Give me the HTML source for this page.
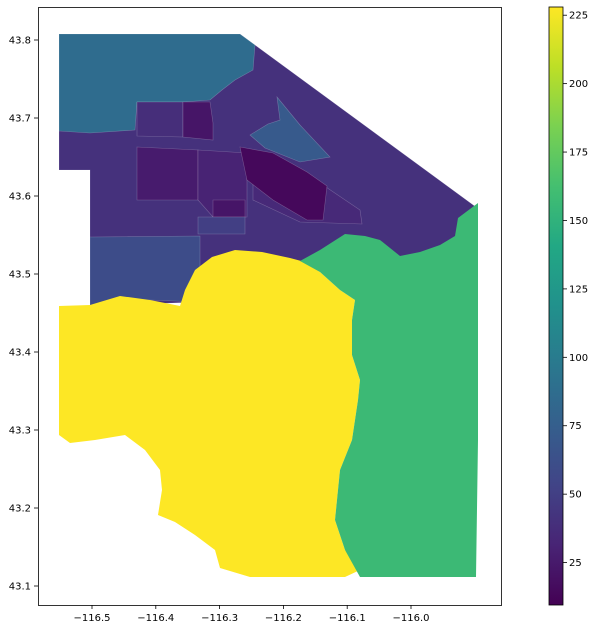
<!DOCTYPE html>
<html><head><meta charset="utf-8">
<style>
html,body{margin:0;padding:0;background:#fff;}
svg{display:block;font-family:"DejaVu Sans","Liberation Sans",sans-serif;}
</style></head>
<body>
<svg id="chart" width="611" height="629" viewBox="0 0 611 629" xmlns="http://www.w3.org/2000/svg">
<defs>
<linearGradient id="vir" x1="0" y1="1" x2="0" y2="0">
<stop offset="0" stop-color="#440154"/><stop offset="0.1" stop-color="#482475"/><stop offset="0.2" stop-color="#414487"/><stop offset="0.3" stop-color="#355f8d"/><stop offset="0.4" stop-color="#2a788e"/><stop offset="0.5" stop-color="#21918c"/><stop offset="0.6" stop-color="#22a884"/><stop offset="0.7" stop-color="#44bf70"/><stop offset="0.8" stop-color="#7ad151"/><stop offset="0.9" stop-color="#bddf26"/><stop offset="1" stop-color="#fde725"/>
</linearGradient>
</defs>
<g id="regions"></g>
<rect x="38.5" y="7.5" width="463" height="598" fill="none" stroke="#000" stroke-width="0.8"/>
<g id="xticks"></g>
<g id="yticks"></g>
<rect x="549" y="7" width="14" height="598" fill="url(#vir)" stroke="#000" stroke-width="0.8"/>
<g id="cticks"></g>
</svg>
<script>
const xTicks = [-116.5, -116.4, -116.3, -116.2, -116.1, -116.0];
const xTickLabels = ["\u2212116.5","\u2212116.4","\u2212116.3","\u2212116.2","\u2212116.1","\u2212116.0"];
const yTicks = [43.1, 43.2, 43.3, 43.4, 43.5, 43.6, 43.7, 43.8];
const yTickLabels = ["43.1","43.2","43.3","43.4","43.5","43.6","43.7","43.8"];
const cTicks = [25, 50, 75, 100, 125, 150, 175, 200, 225];
const vMin = 9.5, vMax = 228;
const regionNames = ["purple-base","northwest","lower-left","ne-strip","block-a","block-b","center-a","center-b","center-c","center-d","east-ring","diagonal-core","yellow-south","green-east"];
const regionValues = [40, 86, 60, 71, 38, 22, 26, 31, 22, 50, 35, 14, 228, 157];
// geometry in pixel-space anchors converted to lon/lat below (vertex lists)
const regionPx = [
 [[59,131],[137,102],[240,34],[476,207],[478,250],[400,262],[300,262],[200,302],[90,306],[90,170],[59,170]],
 [[59,34],[240,34],[255,45],[253,70],[235,80],[222,90],[210,100],[183,102],[137,102],[135,130],[90,133],[59,131]],
 [[90,237],[200,236],[200,302],[150,300],[90,306]],
 [[277,97],[300,125],[330,157],[300,162],[265,148],[250,135],[268,124],[280,120]],
 [[137,102],[183,102],[183,137],[137,136]],
 [[183,102],[210,102],[213,123],[213,140],[183,137]],
 [[137,147],[198,150],[198,200],[137,200]],
 [[198,150],[247,153],[247,217],[213,217],[198,200]],
 [[213,200],[245,200],[245,217],[213,217]],
 [[198,217],[245,217],[245,234],[198,234]],
 [[253,180],[320,183],[360,210],[362,224],[300,222],[253,200]],
 [[240,147],[273,153],[307,172],[327,186],[323,220],[307,220],[273,200],[247,180]],
 [[59,306],[90,305],[120,296],[150,300],[180,306],[185,290],[195,270],[212,257],[235,250],[262,252],[290,258],[305,262],[320,272],[340,290],[355,300],[352,320],[352,355],[360,380],[358,400],[352,440],[340,470],[335,520],[345,550],[360,570],[345,577],[250,577],[220,568],[215,550],[195,535],[175,522],[158,515],[162,490],[160,470],[145,450],[125,435],[95,440],[70,443],[59,435]],
 [[300,261],[320,250],[345,234],[365,236],[380,240],[400,256],[420,252],[440,245],[455,236],[458,218],[478,203],[478,440],[476,577],[360,577],[345,550],[335,520],[340,470],[352,440],[358,400],[360,380],[352,355],[352,320],[355,300],[340,290],[320,272]]
];
function xs(lon){return 92 + (lon + 116.5) * 638;}
function ys(lat){return 40 + (43.8 - lat) * 780;}
function lonOf(px){return -116.5 + (px - 92) / 638;}
function latOf(py){return 43.8 - (py - 40) / 780;}
const regionLonLat = regionPx.map(p => p.map(q => [lonOf(q[0]), latOf(q[1])]));
const stops = ["#440154","#482475","#414487","#355f8d","#2a788e","#21918c","#22a884","#44bf70","#7ad151","#bddf26","#fde725"];
function hx(h){return [1,3,5].map(i=>parseInt(h.substr(i,2),16));}
function viridis(v){
  let t = Math.max(0, Math.min(1, (v - vMin) / (vMax - vMin))) * 10;
  let i = Math.min(9, Math.floor(t)), f = t - i;
  const a = hx(stops[i]), b = hx(stops[i+1]);
  return "rgb(" + a.map((c,k)=>Math.round(c + (b[k]-c)*f)).join(",") + ")";
}
const NS = "http://www.w3.org/2000/svg";
const rg = document.getElementById("regions");
regionLonLat.forEach((poly, i) => {
  const p = document.createElementNS(NS, "polygon");
  p.setAttribute("points", poly.map(q => xs(q[0]).toFixed(1) + "," + ys(q[1]).toFixed(1)).join(" "));
  p.setAttribute("fill", viridis(regionValues[i]));
  p.setAttribute("stroke", i >= 12 ? "none" : "rgba(255,255,255,0.25)");
  p.setAttribute("stroke-width", "0.6");
  
  
  rg.appendChild(p);
});
const xg = document.getElementById("xticks");
xTicks.forEach((v, i) => {
  const x = xs(v);
  const l = document.createElementNS(NS, "line");
  l.setAttribute("x1", x); l.setAttribute("x2", x); l.setAttribute("y1", 605); l.setAttribute("y2", 609);
  l.setAttribute("stroke", "#000"); l.setAttribute("stroke-width", "0.8");
  
  
  xg.appendChild(l);
  const t = document.createElementNS(NS, "text");
  t.setAttribute("x", x); t.setAttribute("y", 621); t.setAttribute("text-anchor", "middle"); t.setAttribute("font-size", "10");
  t.textContent = xTickLabels[i];
  
  
  xg.appendChild(t);
});
const yg = document.getElementById("yticks");
yTicks.forEach((v, i) => {
  const y = ys(v);
  const l = document.createElementNS(NS, "line");
  l.setAttribute("x1", 34); l.setAttribute("x2", 38); l.setAttribute("y1", y); l.setAttribute("y2", y);
  l.setAttribute("stroke", "#000"); l.setAttribute("stroke-width", "0.8");
  
  
  yg.appendChild(l);
  const t = document.createElementNS(NS, "text");
  t.setAttribute("x", 31); t.setAttribute("y", y + 3.5); t.setAttribute("text-anchor", "end"); t.setAttribute("font-size", "10");
  t.textContent = yTickLabels[i];
  
  
  yg.appendChild(t);
});
function cy(v){return 605 - (v - vMin) / (vMax - vMin) * 598;}
const cg = document.getElementById("cticks");
cTicks.forEach(v => {
  const y = cy(v);
  const l = document.createElementNS(NS, "line");
  l.setAttribute("x1", 563); l.setAttribute("x2", 567); l.setAttribute("y1", y); l.setAttribute("y2", y);
  l.setAttribute("stroke", "#000"); l.setAttribute("stroke-width", "0.8");
  
  
  cg.appendChild(l);
  const t = document.createElementNS(NS, "text");
  t.setAttribute("x", 569); t.setAttribute("y", y + 3.5); t.setAttribute("font-size", "10");
  t.textContent = String(v);
  
  
  cg.appendChild(t);
});
</script>
</body></html>
